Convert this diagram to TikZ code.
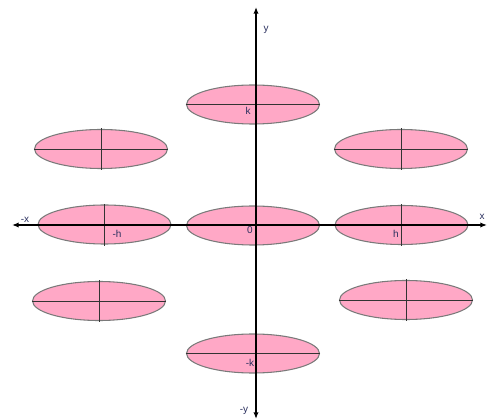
\documentclass[tikz,border=0pt]{standalone}
\usepackage{fontspec}
\setmainfont{Liberation Sans}
\usetikzlibrary{shapes.geometric,arrows.meta}
\definecolor{pinkfill}{HTML}{FFA8C6}
\definecolor{rimgray}{HTML}{7A7A7A}
\definecolor{labelblue}{HTML}{2A2F5E}
\begin{document}
\begin{tikzpicture}[x=0.75pt,y=-0.75pt,
  blob/.style={ellipse,draw=rimgray,fill=pinkfill,line width=0.8pt,
    minimum width=133*0.75pt,minimum height=39*0.75pt,inner sep=0pt},
  diam/.style={draw=black!80,line width=0.6pt},
  axis/.style={line width=1.7pt,black,{Latex[length=5pt,width=4pt]}-{Latex[length=5pt,width=4pt]}},
  lbl/.style={text=labelblue,font=\fontsize{7.5}{9}\selectfont,inner sep=0pt}]
\useasboundingbox (0,0) rectangle (489,420);
% ellipses
\node[blob] (T)  at (253,104.5) {};
\node[blob] (UL) at (101,149) {};
\node[blob] (UR) at (401,149) {};
\node[blob] (ML) at (104.5,224.5) {};
\node[blob] (C)  at (253,225.5) {};
\node[blob] (MR) at (401.5,225) {};
\node[blob] (LL) at (99,301) {};
\node[blob] (LR) at (406,300) {};
\node[blob] (B)  at (253,353.5) {};
% inner diameters
\foreach \e in {T,UL,UR,LL,LR,B}{\draw[diam] (\e.west) -- (\e.east);}
\foreach \e in {UL,UR,ML,MR,LL,LR}{\draw[diam] ([yshift=0.4pt]\e.north) -- ([yshift=-1pt]\e.south);}
% axes
\coordinate (xl) at (12,225);
\coordinate (xr) at (487,225);
\coordinate (yt) at (256,7);
\coordinate (yb) at (256,419);
\draw[axis] (xl) -- (xr);
\draw[axis] (yb) -- (yt);
% labels
\node[lbl] (ly)  at (266,30) {y};
\node[lbl] (lx)  at (482,217) {x};
\node[lbl] (lmx) at (25,220) {-x};
\node[lbl] (lmy) at (244,411) {-y};
\node[lbl] (lk)  at (248,111) {k};
\node[lbl] (lmk) at (250,363) {-k};
\node[lbl] (lmh) at (117,234) {-h};
\node[lbl] (lh)  at (396,234) {h};
\node[lbl] (l0)  at (250,230) {0};
\end{tikzpicture}
\end{document}
